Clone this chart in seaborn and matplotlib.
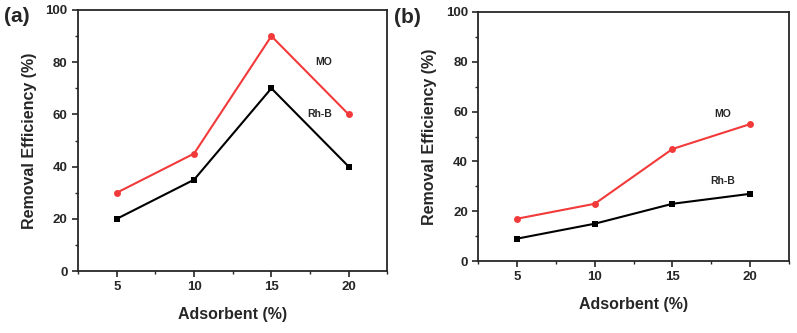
import matplotlib.pyplot as plt
import seaborn as sns
import pandas as pd
from matplotlib.ticker import MultipleLocator

adsorbent = [5, 10, 15, 20]
mo_a = [30, 45, 90, 60]
rhb_a = [20, 35, 70, 40]
mo_b = [17, 23, 45, 55]
rhb_b = [9, 15, 23, 27]

sns.set_style("ticks")
plt.rcParams['font.family'] = ['Liberation Sans', 'DejaVu Sans']
plt.rcParams['font.weight'] = 'bold'

fig = plt.figure(figsize=(7.97, 3.33), dpi=100)
ax_a = fig.add_axes([0.098, 0.186, 0.388, 0.784])
ax_b = fig.add_axes([0.600, 0.216, 0.390, 0.748])


def draw(ax, mo, rhb, mo_pos, rhb_pos):
    df = pd.DataFrame({"x": adsorbent * 2, "y": mo + rhb,
                       "dye": ["MO"] * 4 + ["Rh-B"] * 4})
    sns.lineplot(data=df, x="x", y="y", hue="dye", style="dye",
                 palette={"MO": "#f23a3a", "Rh-B": "black"},
                 markers={"MO": "o", "Rh-B": "s"}, dashes=False,
                 markersize=5, markeredgewidth=0, linewidth=1.5,
                 legend=False, ax=ax)
    ax.set_xlim(2.5, 22.5)
    ax.set_ylim(0, 100)
    ax.xaxis.set_major_locator(MultipleLocator(5))
    ax.xaxis.set_minor_locator(MultipleLocator(2.5))
    ax.yaxis.set_major_locator(MultipleLocator(20))
    ax.yaxis.set_minor_locator(MultipleLocator(10))
    ax.tick_params(which='major', length=4, width=1.2, labelsize=9.5)
    ax.tick_params(which='minor', length=2.5, width=1)
    for lab in ax.get_xticklabels() + ax.get_yticklabels():
        lab.set_fontweight('bold')
    for s in ax.spines.values():
        s.set_linewidth(1.3)
    ax.set_xlabel("Adsorbent (%)", fontsize=11.5, fontweight='bold', labelpad=10)
    ax.set_ylabel("Removal Efficiency (%)", fontsize=11.5, fontweight='bold', labelpad=6)
    ax.text(mo_pos[0], mo_pos[1], "MO", fontsize=7.5, fontweight='bold', ha='center', va='center')
    ax.text(rhb_pos[0], rhb_pos[1], "Rh-B", fontsize=7.5, fontweight='bold', ha='center', va='center')


draw(ax_a, mo_a, rhb_a, (18.4, 80), (18.1, 60))
draw(ax_b, mo_b, rhb_b, (18.2, 59), (18.2, 32))

fig.text(0.005, 0.935, "(a)", fontsize=15, fontweight='bold')
fig.text(0.494, 0.93, "(b)", fontsize=15, fontweight='bold')

fig.savefig("out.png", dpi=100)
